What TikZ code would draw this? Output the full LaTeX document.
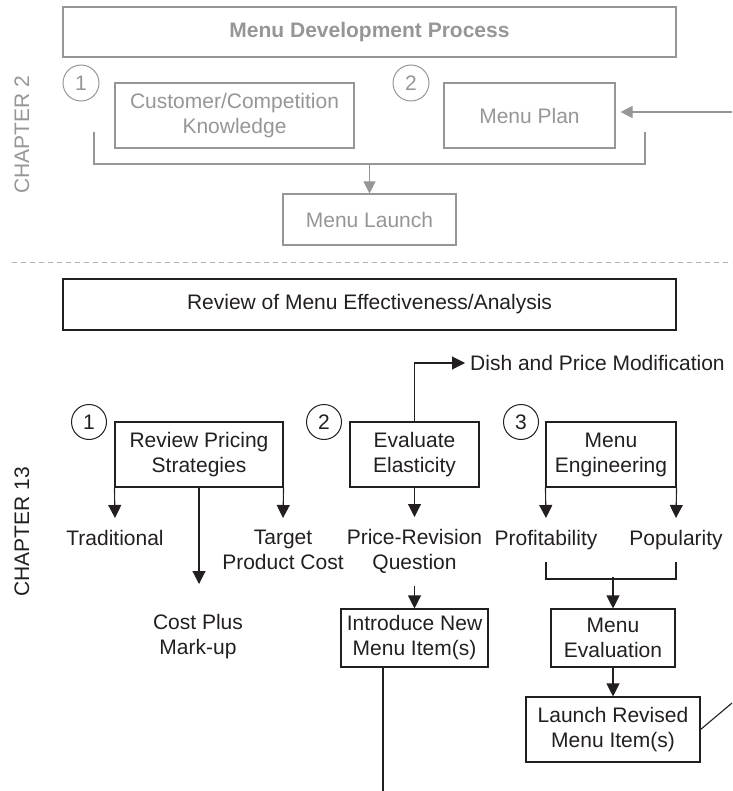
\documentclass[tikz,border=0pt]{standalone}
\usepackage{fontspec}
\setmainfont{Liberation Sans}
\usetikzlibrary{arrows.meta,positioning}
\definecolor{ink}{RGB}{35,31,32}
\definecolor{faded}{RGB}{150,150,152}
\definecolor{dashgrey}{RGB}{175,175,178}
\tikzset{
	box/.style={draw=ink,line width=1.1pt,text=ink,align=center,inner sep=0pt},
	oldbox/.style={draw=faded,line width=1.1pt,text=faded,align=center,inner sep=0pt},
	num/.style={circle,draw=ink,line width=1pt,text=ink,minimum size=35pt,inner sep=0pt},
	oldnum/.style={circle,draw=faded,line width=1pt,text=faded,minimum size=36pt,inner sep=0pt},
	lbl/.style={align=center,text=ink,inner xsep=0pt,inner ysep=12pt},
	link/.style={draw=ink,line width=1.1pt},
	oldlink/.style={draw=faded,line width=1.1pt},
	arr/.style={link,-{Triangle[length=13pt,width=13pt]}},
	oldarr/.style={oldlink,-{Triangle[length=12pt,width=12pt]}},
	chap/.style={rotate=90,text=faded}
}
\begin{document}
\begin{tikzpicture}[x=1pt,y=-1pt,font=\fontsize{21}{25}\selectfont]
	\useasboundingbox (0,0) rectangle (732,791);
	% chapter 2
	\node[oldbox,minimum width=613,minimum height=50,font=\fontsize{21}{25}\selectfont\bfseries] (devproc) at (369.5,32) {Menu Development Process};
	\node[oldnum] (oldone) at (81,83) {1};
	\node[oldnum] (oldtwo) at (411,83) {2};
	\node[oldbox,minimum width=239,minimum height=65] (custknow) at (234.5,115.5) {Customer/Competition\\Knowledge};
	\node[oldbox,minimum width=171,minimum height=65] (menuplan) at (529.5,115.5) {Menu Plan};
	\node[oldbox,minimum width=173,minimum height=51] (launch) at (369.5,219.5) {Menu Launch};
	\node[chap] (chaptwo) at (22,135) {CHAPTER 2};
	\coordinate (feed) at (732,112);
	\coordinate (leftend) at (94,132);
	\coordinate (rightend) at (645,132);
	\draw[oldarr,shorten >=5pt] (feed) -- (menuplan.east |- feed);
	\draw[oldlink] (leftend) -- ++(0,32) -| (rightend);
	\draw[oldarr] (launch.north) ++(0,-30) -- (launch.north);
	\draw[dashgrey,line width=1pt,dash pattern=on 5pt off 4pt] (12,263) -- (732,263);
	% chapter 13
	\node[box,minimum width=613,minimum height=51] (review) at (369.5,304.5) {Review of Menu Effectiveness/Analysis};
	\node[num] (one) at (89,422) {1};
	\node[num] (two) at (324,422) {2};
	\node[num] (three) at (521,422) {3};
	\node[box,minimum width=168,minimum height=65] (pricing) at (199,454.5) {Review Pricing\\Strategies};
	\node[box,minimum width=129,minimum height=65] (evaluate) at (414.5,454.5) {Evaluate\\Elasticity};
	\node[box,minimum width=130,minimum height=65] (engineering) at (611,454.5) {Menu\\Engineering};
	\node[lbl,inner ysep=0pt,inner xsep=5pt,anchor=west] (dish) at (465,363) {Dish and Price Modification};
	\node[lbl,anchor=north] (trad) at (115,518) {Traditional};
	\node[lbl,anchor=north] (target) at (283,518) {Target\\Product Cost};
	\node[lbl] (costplus) at (198,637) {Cost Plus\\Mark-up};
	\node[lbl,anchor=north] (pricerev) at (414.5,517) {Price-Revision\\Question};
	\node[lbl,anchor=north] (profit) at (546,518) {Profitability};
	\node[lbl,anchor=north] (popular) at (676,518) {Popularity};
	\node[box,minimum width=147,minimum height=58] (introduce) at (414.5,638) {Introduce New\\Menu Item(s)};
	\node[box,minimum width=124,minimum height=58] (menueval) at (613,638) {Menu\\Evaluation};
	\node[box,minimum width=174,minimum height=65] (launchrev) at (613,729.5) {Launch Revised\\Menu Item(s)};
	\node[chap,text=ink] (chapthirteen) at (22,532) {CHAPTER 13};
	\coordinate (cptip) at (199,584);
	\coordinate (offright) at (732,703);
	\coordinate (offbottom) at (383,791);
	\draw[arr] (evaluate.north) |- (dish.west);
	\draw[arr] (pricing.south west) -- (trad.north);
	\draw[arr] (pricing.south east) -- (target.north);
	\draw[arr] (pricing.south -| cptip) -- (cptip);
	\draw[arr] (evaluate.south) -- (pricerev.north);
	\draw[arr] (engineering.south west) -- (profit.north);
	\draw[arr] (engineering.south east) -- (popular.north);
	\draw[link] (profit.south) -- ++(0,17) -| (popular.south);
	\draw[arr] (menueval.north) ++(0,-31) -- (menueval.north);
	\draw[arr] (pricerev.south) -- (introduce.north);
	\draw[arr] (menueval.south) -- (launchrev.north);
	\draw[link] (launchrev.east) -- (offright);
	\draw[link] (introduce.south -| offbottom) -- (offbottom);
\end{tikzpicture}
\end{document}
